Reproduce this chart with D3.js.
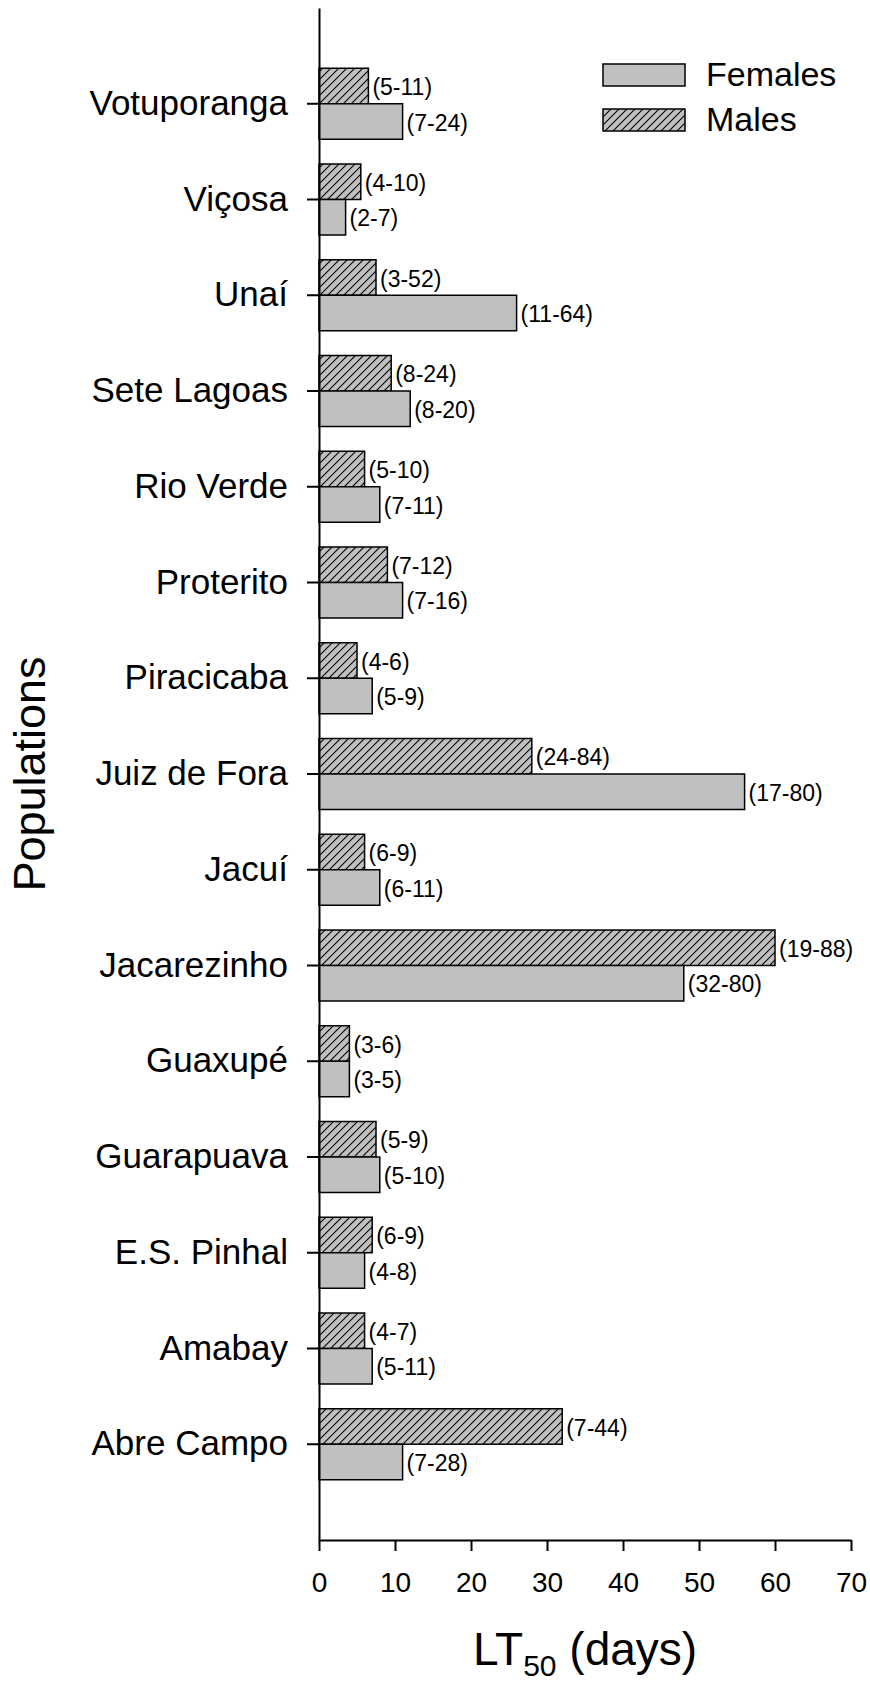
<!DOCTYPE html>
<html>
<head>
<meta charset="utf-8">
<script src="https://cdn.jsdelivr.net/npm/d3@7"></script>
<style>
  body { margin: 0; background: #fff; }
  svg { display: block; font-family: "Liberation Sans", Arial, sans-serif; }
</style>
</head>
<body>
<div id="wrapper"></div>
<script>
// data (top to bottom)
const categories = ["Votuporanga", "Viçosa", "Unaí", "Sete Lagoas", "Rio Verde", "Proterito",
  "Piracicaba", "Juiz de Fora", "Jacuí", "Jacarezinho", "Guaxupé", "Guarapuava",
  "E.S. Pinhal", "Amabay", "Abre Campo"];
const maleValues = [6.5, 5.5, 7.5, 9.5, 6, 9, 5, 28, 6, 60, 4, 7.5, 7, 6, 32];
const femaleValues = [11, 3.5, 26, 12, 8, 11, 7, 56, 8, 48, 4, 8, 6, 7, 11];
const maleCI = ["(5-11)", "(4-10)", "(3-52)", "(8-24)", "(5-10)", "(7-12)", "(4-6)",
  "(24-84)", "(6-9)", "(19-88)", "(3-6)", "(5-9)", "(6-9)", "(4-7)", "(7-44)"];
const femaleCI = ["(7-24)", "(2-7)", "(11-64)", "(8-20)", "(7-11)", "(7-16)", "(5-9)",
  "(17-80)", "(6-11)", "(32-80)", "(3-5)", "(5-10)", "(4-8)", "(5-11)", "(7-28)"];
const xTicks = [0, 10, 20, 30, 40, 50, 60, 70];
const legendLabels = ["Females", "Males"];

function drawChart() {
  const dimensions = {
    width: 870,
    height: 1686,
    margin: { top: 8, right: 19, bottom: 146, left: 319 }
  };
  dimensions.boundedWidth = dimensions.width - dimensions.margin.left - dimensions.margin.right;
  dimensions.boundedHeight = dimensions.height - dimensions.margin.top - dimensions.margin.bottom;

  const svg = d3.select("#wrapper").append("svg")
    .attr("width", dimensions.width)
    .attr("height", dimensions.height);

  // hatch for males
  const defs = svg.append("defs");
  const pat = defs.append("pattern")
    .attr("id", "hatch")
    .attr("patternUnits", "userSpaceOnUse")
    .attr("width", 8)
    .attr("height", 8);
  pat.append("rect").attr("width", 8).attr("height", 8).attr("fill", "#c0c0c0");
  pat.append("path")
    .attr("d", "M-2,2 L2,-2 M0,8 L8,0 M6,10 L10,6")
    .attr("stroke", "#000")
    .attr("stroke-width", 1.1);

  const bounds = svg.append("g")
    .attr("transform", `translate(${dimensions.margin.left},${dimensions.margin.top})`);

  const xScale = d3.scaleLinear()
    .domain([0, 70])
    .range([0, dimensions.boundedWidth]);

  const yScale = d3.scaleBand()
    .domain(categories)
    .range([0, dimensions.boundedHeight])
    .paddingInner(0)
    .paddingOuter(0.5);

  const barH = 35.5;
  const center = c => yScale(c) + yScale.bandwidth() / 2;

  const rows = categories.map((c, i) => ({
    cat: c, male: maleValues[i], female: femaleValues[i], mci: maleCI[i], fci: femaleCI[i]
  }));

  // bars
  bounds.selectAll(".male").data(rows).join("rect")
    .attr("class", "male")
    .attr("x", xScale(0))
    .attr("y", d => center(d.cat) - barH)
    .attr("width", d => xScale(d.male) - xScale(0))
    .attr("height", barH)
    .attr("fill", "url(#hatch)")
    .attr("stroke", "#000")
    .attr("stroke-width", 1.5);

  bounds.selectAll(".female").data(rows).join("rect")
    .attr("class", "female")
    .attr("x", xScale(0))
    .attr("y", d => center(d.cat))
    .attr("width", d => xScale(d.female) - xScale(0))
    .attr("height", barH)
    .attr("fill", "#c0c0c0")
    .attr("stroke", "#000")
    .attr("stroke-width", 1.5);

  // CI labels
  bounds.selectAll(".mlab").data(rows).join("text")
    .attr("class", "mlab")
    .attr("x", d => xScale(d.male) + 4)
    .attr("y", d => center(d.cat) - barH / 2 + 1)
    .attr("dominant-baseline", "central")
    .attr("font-size", 23)
    .text(d => d.mci);

  bounds.selectAll(".flab").data(rows).join("text")
    .attr("class", "flab")
    .attr("x", d => xScale(d.female) + 4)
    .attr("y", d => center(d.cat) + barH / 2 + 1)
    .attr("dominant-baseline", "central")
    .attr("font-size", 23)
    .text(d => d.fci);

  // axes
  const xAxis = bounds.append("g")
    .attr("transform", `translate(0,${dimensions.boundedHeight})`)
    .call(d3.axisBottom(xScale).tickValues(xTicks).tickSize(11).tickSizeOuter(0).tickPadding(21));
  xAxis.selectAll("text").attr("font-size", 28).attr("fill", "#000").attr("font-family", null);
  xAxis.selectAll("line, path").attr("stroke", "#000").attr("stroke-width", 2);

  const yAxis = bounds.append("g")
    .call(d3.axisLeft(yScale).tickSize(12).tickSizeOuter(0).tickPadding(19));
  yAxis.selectAll("text").attr("font-size", 35).attr("fill", "#000").attr("font-family", null);
  yAxis.selectAll("line, path").attr("stroke", "#000").attr("stroke-width", 2);

  // axis titles
  const xTitle = svg.append("text")
    .attr("x", dimensions.margin.left + dimensions.boundedWidth / 2)
    .attr("y", 1665)
    .attr("text-anchor", "middle")
    .attr("font-size", 46);
  xTitle.append("tspan").text("LT");
  xTitle.append("tspan").attr("font-size", 30).attr("dy", 11).text("50");
  xTitle.append("tspan").attr("dy", -11).text(" (days)");

  svg.append("text")
    .attr("transform", `translate(45,${dimensions.margin.top + dimensions.boundedHeight / 2}) rotate(-90)`)
    .attr("text-anchor", "middle")
    .attr("font-size", 45)
    .text("Populations");

  // legend
  const legend = svg.append("g").attr("transform", "translate(603,64)");
  legendLabels.forEach((lab, i) => {
    const g = legend.append("g").attr("transform", `translate(0,${i * 45})`);
    g.append("rect")
      .attr("width", 82)
      .attr("height", 22)
      .attr("fill", i === 0 ? "#c0c0c0" : "url(#hatch)")
      .attr("stroke", "#000")
      .attr("stroke-width", 1.5);
    g.append("text")
      .attr("x", 103)
      .attr("y", 22)
      .attr("font-size", 34)
      .text(lab);
  });
}

drawChart();
</script>
</body>
</html>
